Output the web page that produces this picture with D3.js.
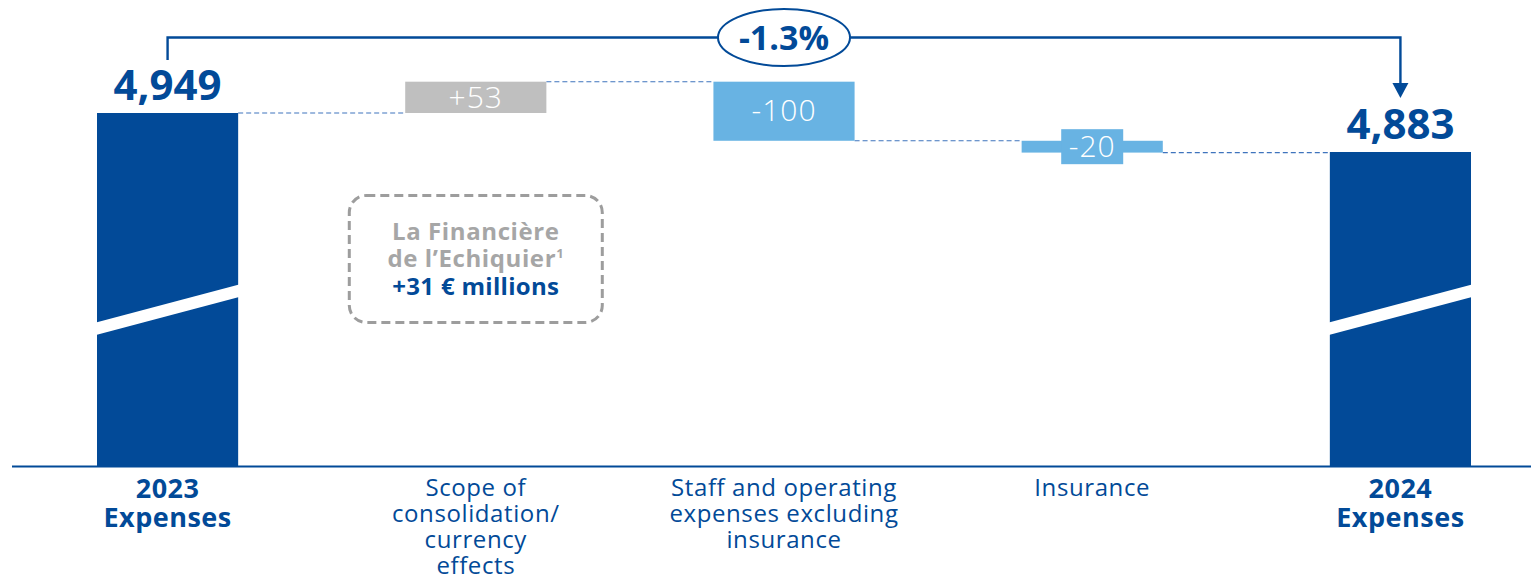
<!DOCTYPE html>
<html>
<head>
<meta charset="utf-8">
<script src="https://cdn.jsdelivr.net/npm/d3@7"></script>
<style>
  html, body { margin: 0; padding: 0; background: #ffffff; }
  svg { display: block; font-family: "Open Sans", "Noto Sans", sans-serif; }
</style>
</head>
<body>
<svg id="chart" width="1531" height="576"></svg>
<script>
// Expense bridge 2023 -> 2024 (€ millions)
const categoryLines = [
  ["2023", "Expenses"],
  ["Scope of", "consolidation/", "currency", "effects"],
  ["Staff and operating", "expenses excluding", "insurance"],
  ["Insurance"],
  ["2024", "Expenses"]
];
const categories = ["2023 Expenses", "Scope", "Staff", "Insurance", "2024 Expenses"];
const values = [4949, 53, -100, -20, 4883];
const kinds = ["total", "increase", "decrease", "decrease", "total"];
const valueLabels = ["4,949", "+53", "-100", "-20", "4,883"];
const changeLabel = "-1.3%";
const noteTitle = ["La Financière", "de l’Echiquier"];
const noteFootnote = "1";
const noteValue = "+31 € millions";

const DARK = "#024a98";
const LIGHT = "#68b3e3";
const GREY = "#bfbfbf";
const TEXT_GREY = "#a6a6a6";

const svg = d3.select("#chart");
const W = 1531, H = 576;
const baseY = 466;          // broken axis baseline

const x = d3.scaleBand()
  .domain(categories)
  .range([97, 1471])
  .paddingInner(0.542)
  .paddingOuter(0);

// value scale (the axis is broken between the baseline and the visible range)
const y = d3.scaleLinear()
  .domain([4883, 4949])
  .range([152, 113]);

// build waterfall segments
let running = 0;
const segs = categories.map((c, i) => {
  let y0, y1;
  if (kinds[i] === "total") {
    running = values[i];
    y0 = null; y1 = values[i];
  } else {
    y0 = running;
    running = running + values[i];
    y1 = running;
  }
  return { cat: c, kind: kinds[i], from: y0, to: y1, label: valueLabels[i], level: running };
});

const cx = c => x(c) + x.bandwidth() / 2;

// connectors between bars
for (let i = 0; i < segs.length - 1; i++) {
  const lvl = segs[i].level;
  svg.append("line")
    .attr("x1", x(segs[i].cat) + x.bandwidth())
    .attr("x2", x(segs[i + 1].cat))
    .attr("y1", y(lvl)).attr("y2", y(lvl))
    .attr("stroke", "#3f74bd")
    .attr("stroke-width", 1.1)
    .attr("stroke-dasharray", "5 3");
}

// bars
segs.forEach((s, i) => {
  if (s.kind === "total") {
    svg.append("rect")
      .attr("x", x(s.cat)).attr("width", x.bandwidth())
      .attr("y", y(s.to)).attr("height", baseY - y(s.to))
      .attr("fill", DARK);
    // axis break mark
    const x0 = x(s.cat) - 1, x1 = x(s.cat) + x.bandwidth() + 1;
    svg.append("polygon")
      .attr("points", [[x0, 322.5], [x1, 284.5], [x1, 297], [x0, 335]].map(p => p.join(",")).join(" "))
      .attr("fill", "#ffffff");
    svg.append("text")
      .attr("x", cx(s.cat)).attr("y", y(s.to) - 13)
      .attr("text-anchor", "middle")
      .attr("font-size", 42).attr("font-weight", 700)
      .attr("fill", DARK)
      .text(s.label);
  } else {
    const top = y(Math.max(s.from, s.to)), bot = y(Math.min(s.from, s.to));
    const fill = s.kind === "increase" ? GREY : LIGHT;
    svg.append("rect")
      .attr("x", x(s.cat)).attr("width", x.bandwidth())
      .attr("y", top).attr("height", bot - top)
      .attr("fill", fill);
    const mid = (top + bot) / 2;
    if (bot - top < 30) {
      svg.append("rect")
        .attr("x", cx(s.cat) - 31).attr("width", 62)
        .attr("y", mid - 17.5).attr("height", 35)
        .attr("fill", fill);
    }
    svg.append("text")
      .attr("x", cx(s.cat)).attr("y", mid)
      .attr("dy", "0.34em")
      .attr("text-anchor", "middle")
      .attr("font-size", 30).attr("font-weight", 300)
      .attr("letter-spacing", 1)
      .attr("fill", "#ffffff")
      .text(s.label);
  }
});

// baseline axis
svg.append("line")
  .attr("x1", 12).attr("x2", W)
  .attr("y1", baseY + 0.5).attr("y2", baseY + 0.5)
  .attr("stroke", DARK).attr("stroke-width", 2.2);

// category labels
categoryLines.forEach((lines, i) => {
  const c = categories[i];
  const bold = kinds[i] === "total";
  lines.forEach((ln, j) => {
    svg.append("text")
      .attr("x", cx(c))
      .attr("y", bold ? 498 + j * 29 : 496 + j * 26)
      .attr("text-anchor", "middle")
      .attr("font-size", bold ? 27 : 24)
      .attr("font-weight", bold ? 700 : 400)
      .attr("letter-spacing", bold ? 0.5 : 0.6)
      .attr("fill", DARK)
      .text(ln);
  });
});

// overall change bracket
const bx0 = cx(categories[0]), bx1 = cx(categories[4]);
const by = 37.5;
svg.append("path")
  .attr("d", `M${bx0},60 V${by} H${bx1} V86`)
  .attr("fill", "none")
  .attr("stroke", DARK).attr("stroke-width", 2.4);
svg.append("path")
  .attr("d", `M${bx1 - 8},83 L${bx1 + 8},83 L${bx1},98 Z`)
  .attr("fill", DARK);
const ex = cx(categories[2]);
svg.append("ellipse")
  .attr("cx", ex).attr("cy", by)
  .attr("rx", 66).attr("ry", 28.5)
  .attr("fill", "#ffffff")
  .attr("stroke", DARK).attr("stroke-width", 2);
svg.append("text")
  .attr("x", ex).attr("y", by).attr("dy", "0.36em")
  .attr("text-anchor", "middle")
  .attr("font-size", 34).attr("font-weight", 700)
  .attr("fill", DARK)
  .text(changeLabel);

// acquisition note box
const nx = cx(categories[1]);
svg.append("rect")
  .attr("x", nx - 126.5).attr("y", 195.5)
  .attr("width", 253).attr("height", 127)
  .attr("rx", 17)
  .attr("fill", "none")
  .attr("stroke", "#9d9d9d").attr("stroke-width", 3)
  .attr("stroke-dasharray", "9 5");
svg.append("text")
  .attr("x", nx).attr("y", 240)
  .attr("text-anchor", "middle")
  .attr("font-size", 24).attr("font-weight", 700)
  .attr("letter-spacing", 0.6)
  .attr("fill", TEXT_GREY)
  .text(noteTitle[0]);
const t2 = svg.append("text")
  .attr("x", nx).attr("y", 267)
  .attr("text-anchor", "middle")
  .attr("font-size", 24).attr("font-weight", 700)
  .attr("letter-spacing", 0.6)
  .attr("fill", TEXT_GREY);
t2.append("tspan").text(noteTitle[1]);
t2.append("tspan").attr("dy", -9).attr("font-size", 13).text(noteFootnote);
svg.append("text")
  .attr("x", nx).attr("y", 295)
  .attr("text-anchor", "middle")
  .attr("font-size", 24).attr("font-weight", 700)
  .attr("letter-spacing", 0.3)
  .attr("fill", DARK)
  .text(noteValue);
</script>
</body>
</html>
